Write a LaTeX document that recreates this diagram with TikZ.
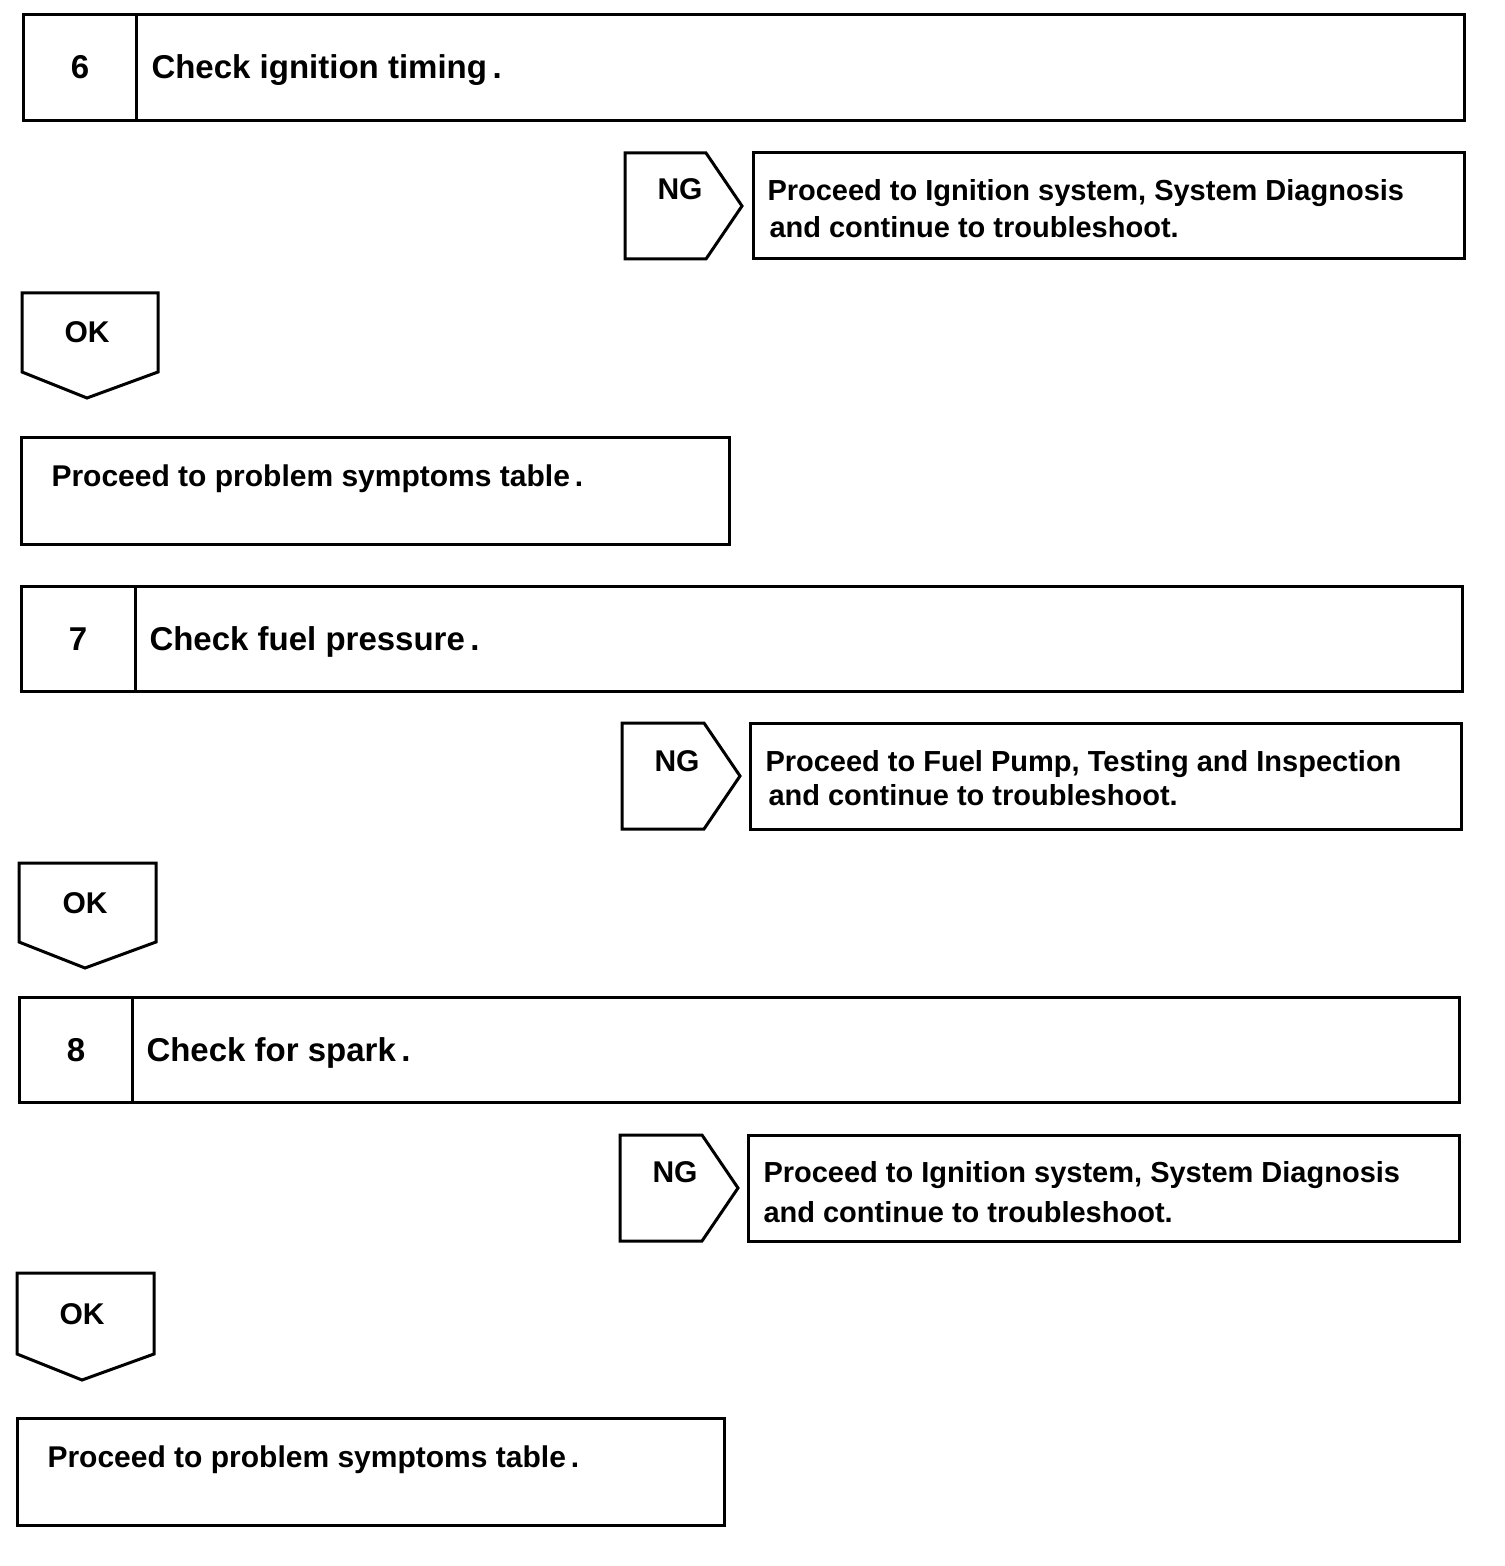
\documentclass[tikz,border=0pt]{standalone}
\usepackage{fontspec}
\setmainfont{Liberation Sans}
\usepackage{tikz}
\usetikzlibrary{positioning}

\begin{document}
\begin{tikzpicture}[x=0.5pt, y=-0.5pt, line width=1.5pt,
    title/.style={anchor=base west, inner sep=0pt, font=\bfseries\fontsize{16.5}{19}\selectfont},
    num/.style={anchor=base, inner sep=0pt, font=\bfseries\fontsize{16.5}{19}\selectfont},
    tag/.style={anchor=base, inner sep=0pt, font=\bfseries\fontsize{15}{18}\selectfont},
    msg/.style={anchor=base west, inner sep=0pt, font=\bfseries\fontsize{14.5}{17}\selectfont},
    result/.style={anchor=base west, inner sep=0pt, font=\bfseries\fontsize{15}{18}\selectfont}]
    \useasboundingbox (0,0) rectangle (1504,1566);

    % Step 6
    \draw (23,15) rectangle (1464,121);
    \draw (136,15) -- (136,121);
    \node[num] (n6) at (80,79) {6};
    \node[title] (t6) at (150,79) {Check ignition timing\,.};

    \draw (625,153) -- (706,153) -- (742,206) -- (706,259) -- (625,259) -- cycle;
    \node[tag] (ng6) at (680,200) {NG};
    \draw (753,153) rectangle (1464,259);
    \node[msg] (m6a) at (766,201) {Proceed to Ignition system, System Diagnosis};
    \node[msg] (m6b) at (768,238) {and continue to troubleshoot.};

    \draw (22,293) -- (158,293) -- (158,372) -- (87,398) -- (22,372) -- cycle;
    \node[tag] (ok6) at (87,343) {OK};

    \draw (21,438) rectangle (729,544);
    \node[result] (r6) at (50,487) {Proceed to problem symptoms table\,.};

    % Step 7
    \draw (21,586) rectangle (1462,691);
    \draw (135,586) -- (135,691);
    \node[num] (n7) at (78,650) {7};
    \node[title] (t7) at (148,650) {Check fuel pressure\,.};

    \draw (622,723) -- (704,723) -- (740,776) -- (704,829) -- (622,829) -- cycle;
    \node[tag] (ng7) at (677,771) {NG};
    \draw (750,723) rectangle (1461,829);
    \node[msg] (m7a) at (764,771) {Proceed to Fuel Pump, Testing and Inspection};
    \node[msg] (m7b) at (767,805) {and continue to troubleshoot.};

    \draw (19,863) -- (156,863) -- (156,942) -- (85,968) -- (19,942) -- cycle;
    \node[tag] (ok7) at (85,913) {OK};

    % Step 8
    \draw (19,997) rectangle (1459,1102);
    \draw (132,997) -- (132,1102);
    \node[num] (n8) at (76,1061) {8};
    \node[title] (t8) at (145,1061) {Check for spark\,.};

    \draw (620,1135) -- (702,1135) -- (738,1188) -- (702,1241) -- (620,1241) -- cycle;
    \node[tag] (ng8) at (675,1182) {NG};
    \draw (748,1135) rectangle (1459,1241);
    \node[msg] (m8a) at (762,1182) {Proceed to Ignition system, System Diagnosis};
    \node[msg] (m8b) at (762,1222) {and continue to troubleshoot.};

    \draw (17,1273) -- (154,1273) -- (154,1354) -- (82,1380) -- (17,1354) -- cycle;
    \node[tag] (ok8) at (82,1324) {OK};

    \draw (17,1418) rectangle (724,1525);
    \node[result] (r8) at (46,1467) {Proceed to problem symptoms table\,.};
\end{tikzpicture}
\end{document}
